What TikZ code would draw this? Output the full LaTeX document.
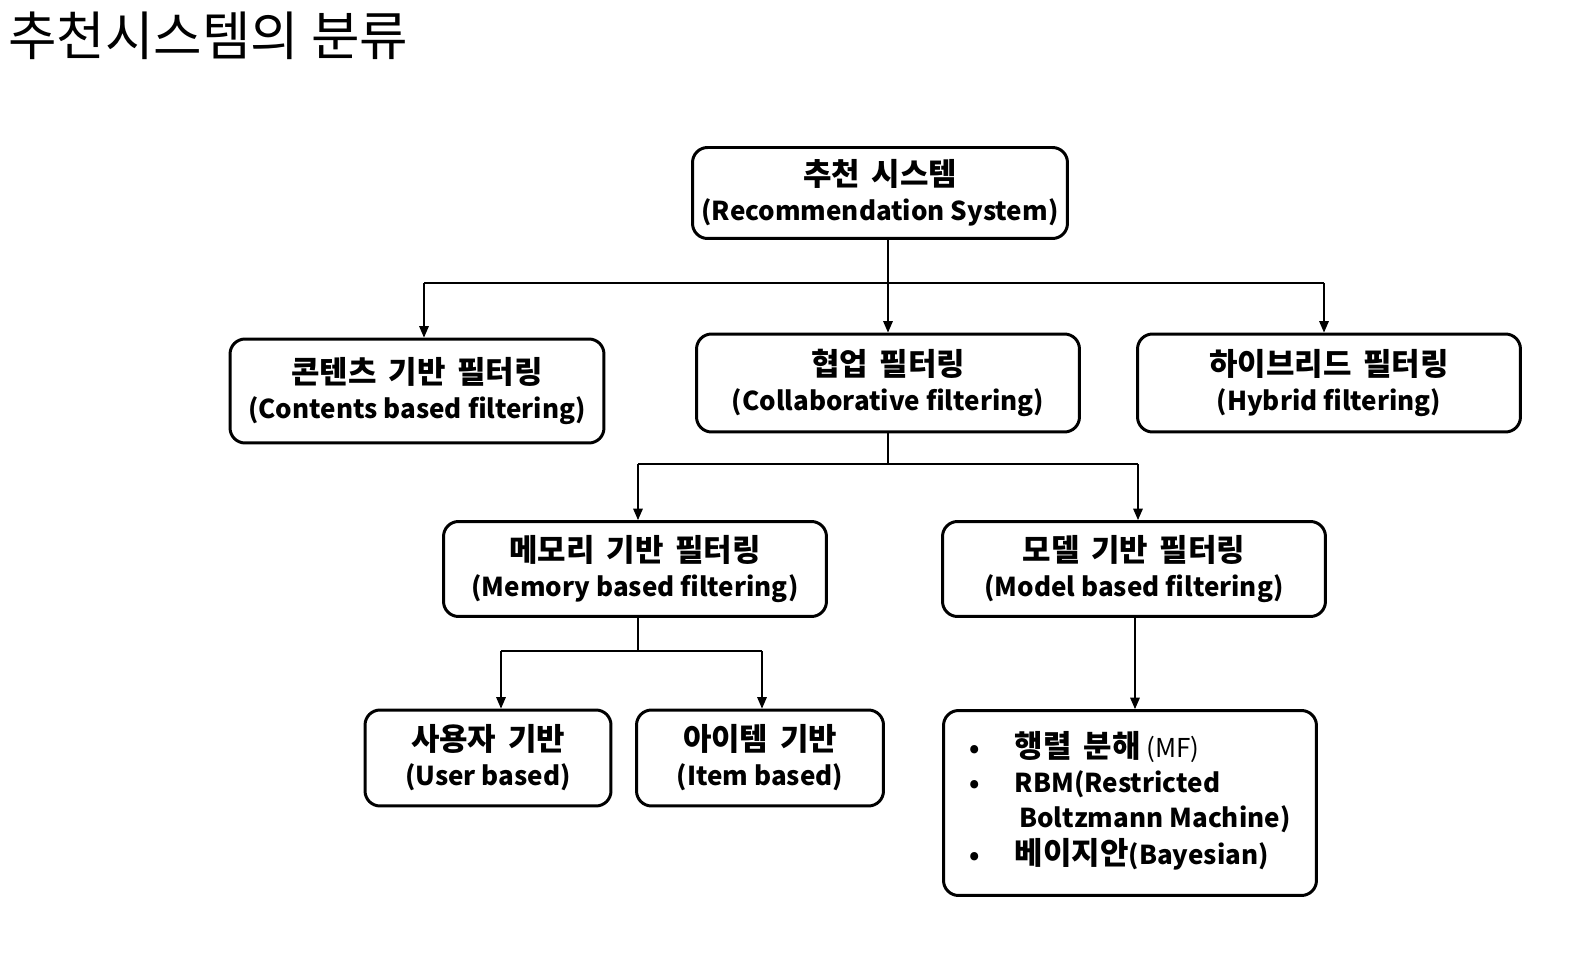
\documentclass[tikz,border=0pt]{standalone}
\usepackage{fontspec}
\setmainfont{Noto Sans CJK KR}
\usetikzlibrary{arrows.meta}
% Korean part of a label, set a little larger than the Latin part
\newcommand{\kr}[1]{{\fontsize{17.6}{20}\selectfont\spaceskip=0.38em #1}}

\begin{document}
\begin{tikzpicture}[x=0.02cm,y=-0.02cm]
            % Define styles
            \tikzstyle{catbox} = [draw,fill=white,shape=rectangle,rounded corners=0.3cm,line width=1.7pt,align=center,inner sep=2,font=\fontsize{14.8}{20}\selectfont\bfseries]
            \tikzstyle{treeline} = [line width=0.6pt,draw=black,-]
            \tikzstyle{treearrow} = [line width=0.6pt,draw=black,-{Triangle[length=6.5pt,width=5.5pt]}]
            \useasboundingbox (0,0) rectangle (1570,956);
            % Title
            	\node (title) at (8,56) [anchor=base west,inner sep=0,font=\fontsize{30}{32}\selectfont] {추천시스템의 분류};
            % Top level
            	\node (root) at (880,193) [catbox,minimum width=7.5cm,minimum height=1.82cm]{\kr{추천 시스템}\\(Recommendation System)};
            % Second level
            	\node (contents) at (417,391) [catbox,minimum width=7.48cm,minimum height=2.08cm]{\kr{콘텐츠 기반 필터링}\\(Contents based filtering)};
            	\node (collab) at (888,383) [catbox,minimum width=7.66cm,minimum height=1.96cm]{\kr{협업 필터링}\\(Collaborative filtering)};
            	\node (hybrid) at (1329,383) [catbox,minimum width=7.66cm,minimum height=1.96cm]{\kr{하이브리드 필터링}\\(Hybrid filtering)};
            % Third level
            	\node (memory) at (635,569) [catbox,minimum width=7.66cm,minimum height=1.9cm]{\kr{메모리 기반 필터링}\\(Memory based filtering)};
            	\node (model) at (1134,569) [catbox,minimum width=7.66cm,minimum height=1.9cm]{\kr{모델 기반 필터링}\\(Model based filtering)};
            % Fourth level
            	\node (user) at (488,758) [catbox,minimum width=4.92cm,minimum height=1.92cm]{\kr{사용자 기반}\\(User based)};
            	\node (item) at (760,758) [catbox,minimum width=4.94cm,minimum height=1.92cm]{\kr{아이템 기반}\\(Item based)};
            	\node (methods) at (1130,803) [catbox,minimum width=7.46cm,minimum height=3.7cm,align=left]{%
            		\begin{tabular}{@{}l@{\hspace{0.7cm}}l@{}}
            		• & \kr{행렬 분해} {\mdseries (MF)}\\
            		• & RBM(Restricted\\
            		  & \,Boltzmann Machine)\\
            		• & \kr{베이지안}(Bayesian)
            		\end{tabular}};
            % Branch points
            	\coordinate (split1) at (888,283);
            	\coordinate (split1L) at (424,283);
            	\coordinate (split1R) at (1324,283);
            	\coordinate (split2) at (888,464);
            	\coordinate (split2L) at (638,464);
            	\coordinate (split2R) at (1138,464);
            	\coordinate (split3) at (638,651);
            	\coordinate (split3L) at (501,651);
            	\coordinate (split3R) at (762,651);
            % Lines and arrows
                % Root to second level
                    \draw [treeline] (split1 |- root.south) -- (split1);
                    \draw [treeline] (split1L) -- (split1R);
                    \draw [treearrow] (split1L) -- (split1L |- contents.north);
                    \draw [treearrow] (split1) -- (split1 |- collab.north);
                    \draw [treearrow] (split1R) -- (split1R |- hybrid.north);
                % Collaborative to third level
                    \draw [treeline] (collab.south) -- (split2 -| collab.south);
                    \draw [treeline] (split2L) -- (split2R);
                    \draw [treearrow] (split2L) -- (split2L |- memory.north);
                    \draw [treearrow] (split2R) -- (split2R |- model.north);
                % Memory to fourth level
                    \draw [treeline] (split3 |- memory.south) -- (split3);
                    \draw [treeline] (split3L) -- (split3R);
                    \draw [treearrow] (split3L) -- (split3L |- user.north);
                    \draw [treearrow] (split3R) -- (split3R |- item.north);
                % Model to methods
                    \draw [treearrow] (model.south -| 1135,0) -- (methods.north -| 1135,0);
\end{tikzpicture}
\end{document}
